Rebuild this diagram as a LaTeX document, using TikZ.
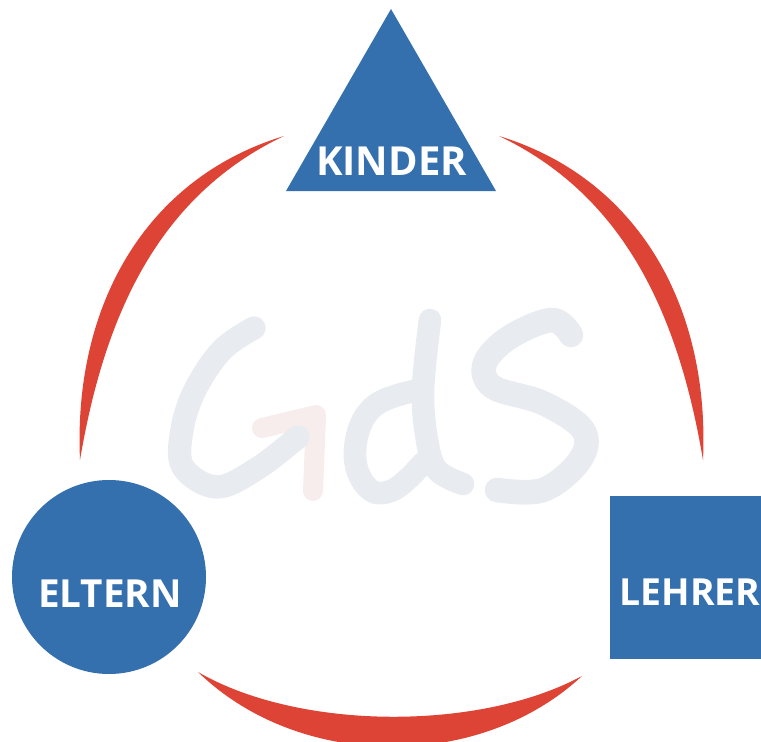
\documentclass[tikz,border=0pt]{standalone}
\usepackage{fontspec}
\setmainfont{Open Sans}
\definecolor{gdsblue}{HTML}{3470AE}
\definecolor{gdsred}{HTML}{DE4436}
\definecolor{gdsgrey}{HTML}{E8ECF1}
\definecolor{gdspink}{HTML}{F6EDEC}
\tikzset{
	label text/.style={text=white,font=\fontsize{#1}{30}\selectfont\bfseries,inner sep=0pt},
	label text/.default=30,
	blue fill/.style={fill=gdsblue,draw=none},
	red arc/.style={fill=gdsred,draw=none},
	letter/.style={draw=gdsgrey,line width=18.5pt,line cap=round,line join=round},
}
\begin{document}
\begin{tikzpicture}[x=0.75pt,y=-0.75pt]
	\useasboundingbox (0,0) rectangle (761,742);
	\clip (0,0) rectangle (761,742);
	
	% letters in the middle
	\draw [letter,draw=gdspink,line width=15pt] (262,428) -- (316,415) -- (313,491);
	\draw [letter,line width=17.5pt] plot[smooth,tension=0.6] coordinates {(254,328) (222,350) (195,390) (182,430) (183,467) (217,487) (258,468) (298,437)};
	\draw [letter,line width=17pt] plot[smooth,tension=0.6] coordinates {(430,320) (423,390) (427,440) (437,470) (463,484)};
	\draw [letter,line width=17pt] plot[smooth,tension=0.7] coordinates {(420,390) (373,407) (355,450) (367,487) (393,490) (423,463)};
	\draw [letter] plot[smooth,tension=0.6] coordinates {(571,335) (552,320) (510,337) (485,363) (493,387) (543,403) (583,430) (580,460) (543,490) (497,490)};
	
	% arcs
	\fill [red arc] (80,460) .. controls (73,305) and (146,178) .. (284,136) .. controls (160,195) and (105,312) .. cycle;
	\fill [red arc] (703,460) .. controls (710,305) and (637,178) .. (499,136) .. controls (623,195) and (678,312) .. cycle;
	\fill [red arc] (198,672) .. controls (300,771) and (480,771) .. (582,676) .. controls (480,731) and (300,731) .. cycle;
	
	% the three shapes
	\draw [blue fill] (391,9) -- (496,191) -- (286,191) -- cycle;
	\node [circle,blue fill,minimum size=145.5pt,inner sep=0pt] (eltern) at (109,577) {};
	\node [rectangle,blue fill,minimum width=122.25pt,minimum height=122.25pt,inner sep=0pt] (lehrer) at (691.5,577.5) {};
	
	\node [label text] (kinderText) at (391.5,161) {KINDER};
	\node [label text=29] (elternText) at (110,594) {ELTERN};
	\node [label text=28] (lehrerText) at (690,592) {LEHRER};
\end{tikzpicture}
\end{document}
